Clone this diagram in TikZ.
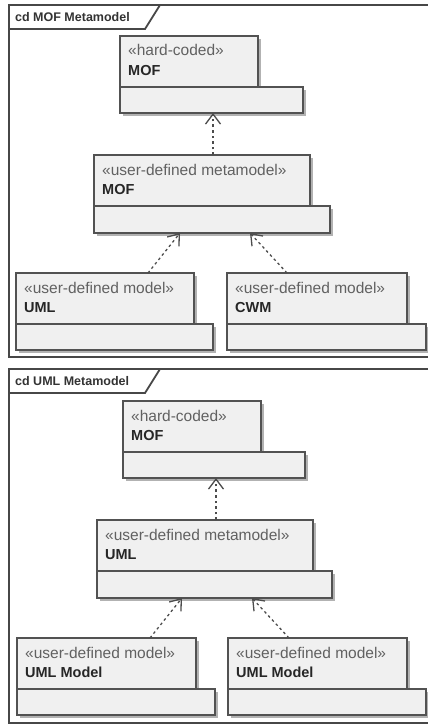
\documentclass[tikz,border=0pt]{standalone}
\usepackage{fontspec}
\setmainfont{Liberation Sans}
\usetikzlibrary{arrows.meta,calc}

\tikzset{
  frameline/.style={draw=black!72, line width=1.8pt},
  frametitle/.style={anchor=west, inner sep=0pt, text=black!80,
    font=\bfseries\fontsize{12.5}{13}\selectfont},
  compart/.style={draw=black!68, line width=1.3pt, fill=black!6,
    inner sep=0pt, outer sep=0pt, anchor=north west},
  boxshadow/.style={fill=black!30},
  stereo/.style={anchor=base west, inner sep=0pt, text=black!62,
    font=\fontsize{15.5}{16}\selectfont},
  cname/.style={anchor=base west, inner sep=0pt, text=black!85,
    font=\bfseries\fontsize{14.5}{15}\selectfont},
  dep/.style={draw=black!70, line width=1.3pt, dash pattern=on 2.6pt off 3pt,
    -{Straight Barb[length=10pt, width=15pt, line width=1.3pt]}}
}

% #1 name, #2 left, #3 right of upper part, #4 right of lower part,
% #5 top, #6 divider, #7 bottom, #8 stereotype, #9 class name
\newcommand\classbox[9]{%
  \fill[boxshadow] (#2+3,#5+3) rectangle (#3+3,#6+3);
  \fill[boxshadow] (#2+3,#6+3) rectangle (#4+3,#7+3);
  \node[compart, minimum width={#3-#2}, minimum height={#6-#5}] (#1-up) at (#2,#5) {};
  \node[compart, minimum width={#4-#2}, minimum height={#7-#6}] (#1-low) at (#2,#6) {};
  \node[stereo] (#1-st) at (#2+8,#5+20) {«#8»};
  \node[cname] (#1-nm) at (#2+8,#5+39) {#9};
}

\begin{document}
\begin{tikzpicture}[x=1pt, y=-1pt]
  \useasboundingbox (0,0) rectangle (428,725);
  \fill[white] (0,0) rectangle (428,725);
  \clip (0,0) rectangle (428,725);

  % ---- first diagram frame
  \draw[frameline] (9,5) rectangle (440,357);
  \draw[frameline] (9,29) -- (145,29) -- (160,5);
  \node[frametitle] (title1) at (15,17.5) {cd MOF Metamodel};

  \classbox{hcA}{120}{258}{303}{36}{87}{113}{hard-coded}{MOF}
  \classbox{mmA}{94}{310}{330}{155}{206}{233}{user-defined metamodel}{MOF}
  \classbox{umlA}{16}{194}{213}{273}{324}{350}{user-defined model}{UML}
  \classbox{cwmA}{227}{407}{426}{273}{324}{350}{user-defined model}{CWM}

  \coordinate (mmA-out) at (213,155);
  \coordinate (hcA-in) at (213,113);
  \coordinate (umlA-out) at (148,273);
  \coordinate (mmA-inL) at (180,233);
  \coordinate (cwmA-out) at (287,273);
  \coordinate (mmA-inR) at (250,233);
  \draw[dep] (mmA-out) -- (hcA-in);
  \draw[dep] (umlA-out) -- (mmA-inL);
  \draw[dep] (cwmA-out) -- (mmA-inR);

  % ---- second diagram frame
  \draw[frameline] (9,369) rectangle (440,723);
  \draw[frameline] (9,393) -- (145,393) -- (160,369);
  \node[frametitle] (title2) at (15,381.5) {cd UML Metamodel};

  \classbox{hcB}{123}{261}{305}{401}{452}{478}{hard-coded}{MOF}
  \classbox{mmB}{97}{313}{332}{520}{571}{598}{user-defined metamodel}{UML}
  \classbox{umlB}{17}{196}{215}{638}{689}{715}{user-defined model}{UML Model}
  \classbox{umlC}{228}{407}{426}{638}{689}{715}{user-defined model}{UML Model}

  \coordinate (mmB-out) at (216,520);
  \coordinate (hcB-in) at (216,478);
  \coordinate (umlB-out) at (150,638);
  \coordinate (mmB-inL) at (182,598);
  \coordinate (umlC-out) at (289,638);
  \coordinate (mmB-inR) at (252,598);
  \draw[dep] (mmB-out) -- (hcB-in);
  \draw[dep] (umlB-out) -- (mmB-inL);
  \draw[dep] (umlC-out) -- (mmB-inR);
\end{tikzpicture}
\end{document}
